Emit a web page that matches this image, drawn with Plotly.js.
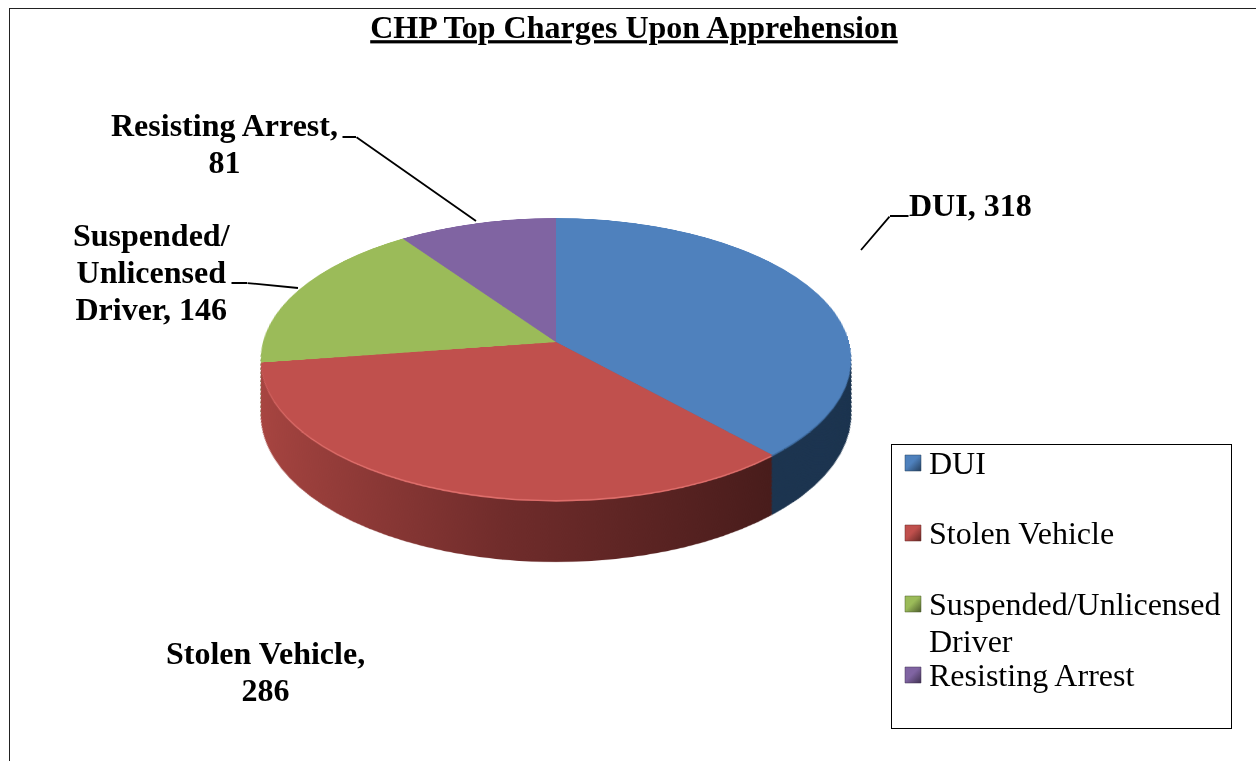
<!DOCTYPE html>
<html>
<head>
<meta charset="utf-8">
<script src="https://cdn.plot.ly/plotly-3.0.1.min.js"></script>
<style>
html,body{margin:0;padding:0;background:#fff;overflow:hidden}
#wrap{position:relative;width:1256px;height:761px;overflow:hidden}
#frame{position:absolute;left:9px;top:8px;width:1247px;height:753px;border-left:1.5px solid #222;border-top:1.5px solid #222;box-sizing:border-box}
#chart{position:absolute;left:0;top:0;width:1256px;height:761px}
</style>
</head>
<body>
<div id="wrap"><div id="frame"></div><div id="chart"></div></div>
<script>
var categories = ['DUI', 'Stolen Vehicle', 'Suspended/Unlicensed<br>Driver', 'Resisting Arrest'];
var values = [318, 286, 146, 81];
var faceColors = ['#4f81bd', '#c0504d', '#9bbb59', '#8064a2'];
var rimColors = ['#3d6a9e', '#de6e6b', '#a9c968', '#8a6eac'];
var wallColors = ['#1d3550', '#7a2f2d', '#5d7035', '#4c3c61'];
var chartTitle = 'CHP Top Charges Upon Apprehension';
var dataLabels = ['DUI, 318', 'Stolen Vehicle,<br>286', 'Suspended/<br>Unlicensed<br>Driver, 146', 'Resisting Arrest,<br>81'];

var W = 1256, H = 761;
var R = 293, CX = 556, CY = 332, DEPTH = 110, STEP = 2, SHRINK = 0.000411;
function px(x){ return x / W; }
function py(y){ return 1 - y / H; }

function pieLayer(offset, colors, isTop){
  var r = R * (1 - SHRINK * offset);
  return {
    type: 'pie', values: values, labels: categories, sort: false,
    direction: 'clockwise', rotation: 0, textinfo: 'none', hoverinfo: 'skip',
    showlegend: !!isTop,
    marker: {colors: colors, line: {width: 0}},
    domain: {x: [px(CX - r), px(CX + r)], y: [py(CY + offset + r), py(CY + offset - r)]}
  };
}
var traces = [];
for (var d = DEPTH; d >= 6; d -= STEP) traces.push(pieLayer(d, wallColors, false));
var wallCount = traces.length;
traces.push(pieLayer(3, rimColors, false));
traces.push(pieLayer(0, faceColors, true));

var labelFont = {family: 'Liberation Serif', size: 32, color: '#000'};
function textNote(text, x, top){
  return {text: '<b>' + text + '</b>', xref: 'paper', yref: 'paper', x: px(x), y: py(top),
    xanchor: 'center', yanchor: 'top', align: 'center', showarrow: false, font: labelFont, borderpad: 0};
}
function leader(x0, y0, x1, y1){
  return {text: ' ', xref: 'paper', yref: 'paper', x: px(x1), y: py(y1),
    axref: 'pixel', ayref: 'pixel', ax: x0 - x1, ay: y0 - y1, showarrow: true,
    arrowhead: 0, arrowwidth: 1.8, arrowcolor: '#000', standoff: 0, startstandoff: 0,
    font: {size: 1}, borderpad: 0};
}
var annotations = [
  textNote(dataLabels[0], 970, 186),
  textNote(dataLabels[1], 265, 634),
  textNote(dataLabels[2], 152, 216),
  textNote(dataLabels[3], 225, 106),
  leader(909, 216, 890, 216), leader(890, 216, 861, 250),
  leader(342, 137, 356, 137), leader(356, 137, 476, 221),
  leader(231, 283, 247, 283), leader(247, 283, 298, 288)
];

var layout = {
  width: W, height: H, margin: {l: 0, r: 0, t: 0, b: 0},
  paper_bgcolor: 'rgba(0,0,0,0)', plot_bgcolor: 'rgba(0,0,0,0)',
  hovermode: false,
  title: {text: '<b>' + chartTitle + '</b>', x: 634 / W, xanchor: 'center', y: py(27), yanchor: 'middle',
    font: {family: 'Liberation Serif', size: 32, color: '#000', lineposition: 'under'}},
  showlegend: true,
  legend: {x: px(891), y: py(444), xanchor: 'left', yanchor: 'top', traceorder: 'normal',
    bgcolor: '#fff', bordercolor: '#000', borderwidth: 1,
    font: {family: 'Liberation Serif', size: 32, color: '#000'}},
  annotations: annotations
};

var gd = document.getElementById('chart');
Plotly.newPlot(gd, traces, layout, {displayModeBar: false, staticPlot: true}).then(function(){
  var svgNS = 'http://www.w3.org/2000/svg';
  var svgs = gd.querySelectorAll('svg.main-svg');
  var planeSvg = svgs[0];
  var legendSvg = gd.querySelector('.legend').ownerSVGElement;

  var keyDark = ['#25405f', '#642825', '#4e5e2d', '#403251'];
  function grad(host, id, stops, x2, y2){
    var defs = document.createElementNS(svgNS, 'defs');
    var g = document.createElementNS(svgNS, 'linearGradient');
    g.setAttribute('id', id); g.setAttribute('x1', 0); g.setAttribute('y1', 0);
    g.setAttribute('x2', x2); g.setAttribute('y2', y2);
    stops.forEach(function(s){
      var st = document.createElementNS(svgNS, 'stop');
      st.setAttribute('offset', s[0]); st.setAttribute('stop-color', s[1]);
      g.appendChild(st);
    });
    defs.appendChild(g);
    host.insertBefore(defs, host.firstChild);
  }
  grad(planeSvg, 'wallRed', [[0, '#a84541'], [0.5, '#702c2b'], [1, '#481c1b']], 1, 0);
  keyDark.forEach(function(c, n){ grad(legendSvg, 'key' + n, [[0, faceColors[n]], [0.45, faceColors[n]], [1, c]], 1, 1); });

  var pieTraces = planeSvg.querySelectorAll('.pielayer .trace');
  for (var i = 0; i < wallCount; i++) {
    var p = pieTraces[i].querySelectorAll('path.surface');
    if (p[1]) p[1].style.fill = 'url(#wallRed)';
  }
  // perspective tilt of the pie plane only
  planeSvg.style.transformOrigin = CX + 'px ' + CY + 'px';
  planeSvg.style.transform = 'translateY(' + (342 - CY) + 'px) perspective(2140px) rotateX(61.7deg)';
  planeSvg.style.overflow = 'visible';

  // line spacing of multi-line labels
  gd.querySelectorAll('.annotation-text, .legendtext').forEach(function(t){
    t.querySelectorAll('tspan.line').forEach(function(l, n){ l.setAttribute('dy', (n * 1.16) + 'em'); });
  });

  // legend box geometry
  var leg = gd.querySelector('.legend');
  var bg = leg.querySelector('rect.bg');
  bg.setAttribute('width', 340); bg.setAttribute('height', 284);
  leg.querySelector('.scrollbox').removeAttribute('clip-path');
  var rows = [463 - 444, 533 - 444, 604 - 444, 675 - 444];
  leg.querySelectorAll('.traces').forEach(function(tr, n){
    tr.setAttribute('transform', 'translate(0,' + rows[n] + ')');
    var txt = tr.querySelector('.legendtext');
    txt.setAttribute('x', 38); txt.setAttribute('y', 10.5);
    txt.querySelectorAll('tspan.line').forEach(function(l){ l.setAttribute('x', 38); l.setAttribute('y', 10.5); });
    var pts = tr.querySelector('.legendpoints');
    pts.setAttribute('transform', 'translate(22,0)');
    var sw = pts.querySelector('path');
    sw.setAttribute('d', 'M8,8H-8V-8H8Z');
    sw.removeAttribute('transform');
    sw.style.fill = 'url(#key' + n + ')';
    sw.style.stroke = keyDark[n]; sw.style.strokeWidth = '0.5px';
  });
});
</script>
</body>
</html>
